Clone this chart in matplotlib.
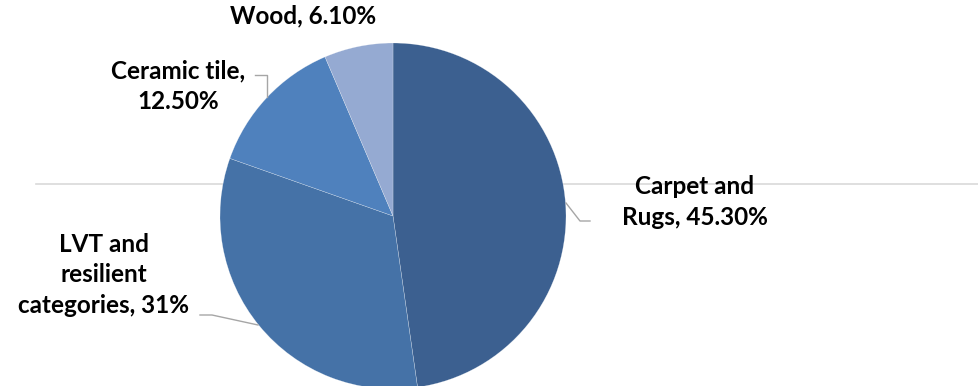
import matplotlib.pyplot as plt

# flooring market share
categories = ["Carpet and\nRugs", "LVT and\nresilient\ncategories", "Ceramic tile", "Wood"]
shares = [45.3, 31.0, 12.5, 6.1]
share_labels = ["45.30%", "31%", "12.50%", "6.10%"]
colors = ["#3c6090", "#4572a7", "#4f81bd", "#95aad2"]

W, H = 979, 386
fig = plt.figure(figsize=(W / 100, H / 100), dpi=100)
ax = fig.add_axes([0, 0, 1, 1])


def py(y):
    # pixel row (top down) -> data y
    return H - y


# thin axis-like rule behind the pie
ax.plot([36, W], [py(184), py(184)], color="#d9d9d9", lw=1.2, zorder=0)

ax.pie(shares, colors=colors, startangle=90, counterclock=False, normalize=True,
       center=(393, py(216)), radius=173, frame=True,
       wedgeprops=dict(edgecolor="#ffffff80", linewidth=0.3))
ax.set_xlim(0, W)
ax.set_ylim(0, H)
ax.set_aspect("equal")
ax.axis("off")

font = dict(family="Lato", fontsize=17.5, fontweight="bold", color="black",
            ha="center", va="center", linespacing=1.38)
lead = dict(color="#a6a6a6", lw=1)

# Carpet and Rugs
ax.text(695, py(202), categories[0] + ", " + share_labels[0], **font)
ax.plot([566, 580, 590], [py(203), py(221), py(221)], **lead)

# LVT and resilient categories
ax.text(104, py(275), categories[1] + ", " + share_labels[1], **font)
ax.plot([200, 212, 258], [py(315), py(315), py(325)], **lead)

# Ceramic tile
ax.text(178, py(86), categories[2] + ",\n" + share_labels[2], **font)
ax.plot([255, 267, 267], [py(75), py(75), py(97)], **lead)

# Wood
ax.text(303, py(16), categories[3] + ", " + share_labels[3], **font)

fig.savefig("out.png", dpi=100)
